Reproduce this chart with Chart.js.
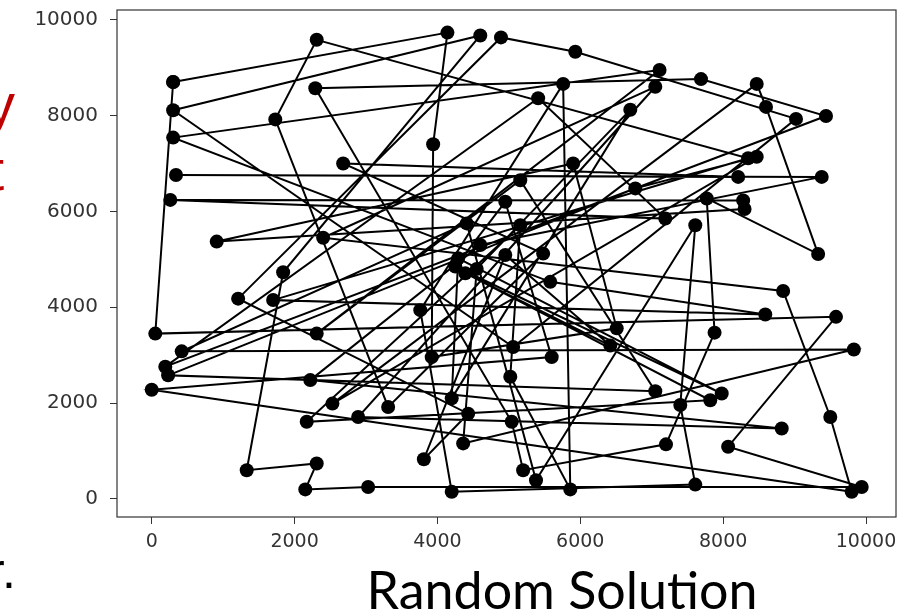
<!DOCTYPE html>
<html>
<head>
<meta charset="utf-8">
<script src="https://cdn.jsdelivr.net/npm/chart.js@4.4.1/dist/chart.umd.min.js"></script>
<style>
  body { margin: 0; background: #fff; }
  #wrap { width: 910px; height: 616px; }
</style>
</head>
<body>
<div id="wrap"><canvas id="grafico"></canvas></div>
<script>
// ruta aleatoria, en orden de visita (cerrada: el ultimo punto repite el primero)
const rutaX = [300, 4140, 3940, 3920, 6510, 5900, 910, 8300, 8280, 260,
  7190, 5410, 190, 9440, 7690, 2290, 5040, 5200, 7200, 7880,
  7770, 9330, 8600, 8470, 2530, 8470, 6770, 230, 7050, 5160,
  2310, 7110, 300, 5580, 8590, 1700, 8350, 2310, 1730, 3310,
  5480, 2680, 8210, 340, 9380, 4600, 2220, 8820, 2890, 7050,
  2400, 8840, 9500, 9800, 0, 5600, 4950, 4250, 7980, 4290,
  4200, 6700, 4550, 4360, 9830, 420, 4410, 5380, 7610, 7400,
  7610, 4200, 3760, 5760, 5860, 5020, 5160, 2170, 7820, 4390,
  6420, 4950, 3810, 4430, 1210, 4890, 5930, 9020, 5060, 300,
  4600, 1840, 1330, 2310, 2150, 3030, 9940, 8070, 9580, 50,
  300];
const rutaY = [8700, 9730, 7400, 2960, 3560, 7000, 5370, 6050, 6230, 6240,
  5850, 8360, 2760, 7990, 8760, 8570, 1610, 600, 1140, 3470,
  6270, 5110, 8180, 8660, 1990, 7140, 6480, 2580, 2250, 6650,
  3450, 8950, 7540, 4530, 3850, 4150, 7110, 9580, 7920, 1920,
  5120, 7000, 6720, 6760, 6720, 5300, 2480, 1470, 1710, 8600,
  5450, 4340, 1710, 150, 2280, 2960, 6200, 4850, 2200, 5020,
  2100, 8120, 4800, 1160, 3120, 3080, 5750, 390, 5710, 1960,
  300, 150, 3940, 8660, 200, 2550, 5710, 1610, 2060, 4710,
  3200, 5090, 830, 1780, 4180, 9630, 9330, 7930, 3170, 8110,
  9670, 4730, 600, 740, 200, 250, 250, 1090, 3800, 3450,
  8700];

const ticksX = [0, 2000, 4000, 6000, 8000, 10000];
const ticksY = [0, 2000, 4000, 6000, 8000, 10000];

const puntos = rutaX.map((x, i) => ({ x: x, y: rutaY[i] }));

const textos = {
  id: 'textos',
  afterDraw(chart) {
    const ctx = chart.ctx;
    const a = chart.chartArea;
    ctx.save();
    // marco del grafico
    ctx.strokeStyle = '#333';
    ctx.lineWidth = 1.2;
    ctx.strokeRect(a.left, a.top, a.right - a.left, a.bottom - a.top);

    ctx.fillStyle = '#000';
    ctx.font = '52px Lato, "Liberation Sans", sans-serif';
    ctx.textAlign = 'center';
    ctx.textBaseline = 'alphabetic';
    ctx.fillText('Random Solution', 562, 609);

    // restos de texto de la diapositiva, cortados en el borde izquierdo
    ctx.textAlign = 'left';
    ctx.fillStyle = '#c00000';
    ctx.font = '58px "Liberation Sans", Arial, sans-serif';
    ctx.fillText('y', -14, 124);
    ctx.fillText('t', -12, 190);
    ctx.fillStyle = '#000';
    ctx.font = '50px "Liberation Sans", Arial, sans-serif';
    ctx.fillText('r.', -12, 588);
    ctx.restore();
  }
};

new Chart(document.getElementById('grafico'), {
  type: 'scatter',
  data: {
    datasets: [{
      data: puntos,
      showLine: true,
      borderColor: '#000',
      borderWidth: 2,
      pointRadius: 7,
      pointHoverRadius: 7,
      pointBackgroundColor: '#000',
      pointBorderWidth: 0,
      tension: 0
    }]
  },
  options: {
    responsive: true,
    maintainAspectRatio: false,
    animation: false,
    events: [],
    layout: { padding: { top: 10, right: 14, left: 0, bottom: 0 } },
    plugins: { legend: { display: false }, tooltip: { enabled: false } },
    scales: {
      x: {
        type: 'linear',
        min: -486,
        max: 10420,
        afterBuildTicks: s => { s.ticks = ticksX.map(v => ({ value: v })); },
        afterFit: s => { s.height = 99; s.paddingLeft = 0; s.paddingRight = 0; },
        ticks: {
          color: '#333',
          padding: 7,
          maxRotation: 0,
          font: { family: 'DejaVu Sans', size: 19 },
          callback: v => String(v)
        },
        grid: { drawOnChartArea: false, tickLength: 7, color: '#333' },
        border: { display: false }
      },
      y: {
        type: 'linear',
        min: -376,
        max: 10202,
        afterBuildTicks: s => { s.ticks = ticksY.map(v => ({ value: v })); },
        afterFit: s => { s.width = 117; s.paddingTop = 0; s.paddingBottom = 0; },
        ticks: {
          color: '#333',
          padding: 12,
          font: { family: 'DejaVu Sans', size: 20 },
          callback: v => String(v)
        },
        grid: { drawOnChartArea: false, tickLength: 7, color: '#333' },
        border: { display: false }
      }
    }
  },
  plugins: [textos]
});
</script>
</body>
</html>
